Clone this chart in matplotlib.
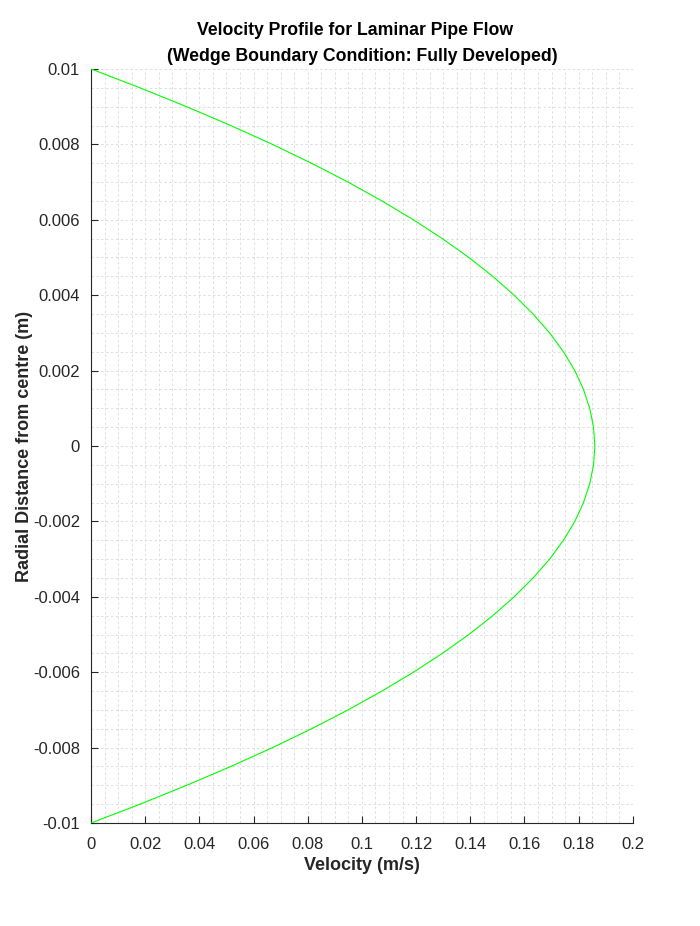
import numpy as np
import matplotlib.pyplot as plt
from matplotlib.ticker import MultipleLocator

plt.rcParams['font.family'] = ['Liberation Sans', 'DejaVu Sans']

# radial position (m) and velocity (m/s)
r_pos = [0.0, 0.0005, 0.001, 0.0015, 0.002, 0.0025, 0.003, 0.0035, 0.004, 0.0045,
         0.005, 0.0055, 0.006, 0.0065, 0.007, 0.0075, 0.008, 0.0085, 0.009, 0.0095, 0.01]
u_pos = [0.186, 0.1855, 0.1841, 0.1818, 0.1786, 0.1744, 0.1693, 0.1632, 0.1562, 0.1483,
         0.1395, 0.1297, 0.1190, 0.1074, 0.0949, 0.0814, 0.0670, 0.0516, 0.0353, 0.0181, 0.0]

r = [-v for v in r_pos[::-1]] + r_pos[1:]
u = u_pos[::-1] + u_pos[1:]

xticks = [0, 0.02, 0.04, 0.06, 0.08, 0.1, 0.12, 0.14, 0.16, 0.18, 0.2]
xlabels = ['0', '0.02', '0.04', '0.06', '0.08', '0.1', '0.12', '0.14', '0.16', '0.18', '0.2']
yticks = [-0.01, -0.008, -0.006, -0.004, -0.002, 0, 0.002, 0.004, 0.006, 0.008, 0.01]
ylabels = ['-0.01', '-0.008', '-0.006', '-0.004', '-0.002', '0',
           '0.002', '0.004', '0.006', '0.008', '0.01']

fig = plt.figure(figsize=(7, 9.26), dpi=100)
ax = fig.add_axes([0.13, 0.1112, 0.774, 0.8143])

ax.plot(u, r, color=(0, 1, 0), linewidth=0.8, zorder=3)

ax.set_xlim(0, 0.2)
ax.set_ylim(-0.01, 0.01)
ax.set_xticks(xticks)
ax.set_xticklabels(xlabels)
ax.set_yticks(yticks)
ax.set_yticklabels(ylabels)
ax.xaxis.set_minor_locator(MultipleLocator(0.005))
ax.yaxis.set_minor_locator(MultipleLocator(0.0005))

ax.grid(which='both', color='#dedede', linestyle=(0, (2.5, 2.5)), linewidth=0.7)
ax.set_axisbelow(True)

for side in ['top', 'right']:
    ax.spines[side].set_visible(False)
for side in ['bottom', 'left']:
    ax.spines[side].set_color('#262626')
    ax.spines[side].set_linewidth(0.8)

ax.tick_params(which='major', direction='in', length=5, width=0.8,
               colors='#262626', labelsize=12)
ax.tick_params(axis='x', which='major', pad=10)
ax.tick_params(axis='y', which='major', pad=8)
ax.tick_params(which='minor', length=0)

ax.set_xlabel('Velocity (m/s)', fontsize=13, fontweight='bold', color='#262626', labelpad=4)
ax.set_ylabel('Radial Distance from centre (m)', fontsize=13, fontweight='bold',
              color='#262626', labelpad=0)
ax.set_title('Velocity Profile for Laminar Pipe Flow   \n(Wedge Boundary Condition: Fully Developed)',
             fontsize=12.7, fontweight='bold', color='black', pad=6, linespacing=1.65)

fig.savefig('out.png', dpi=100, facecolor='white')
